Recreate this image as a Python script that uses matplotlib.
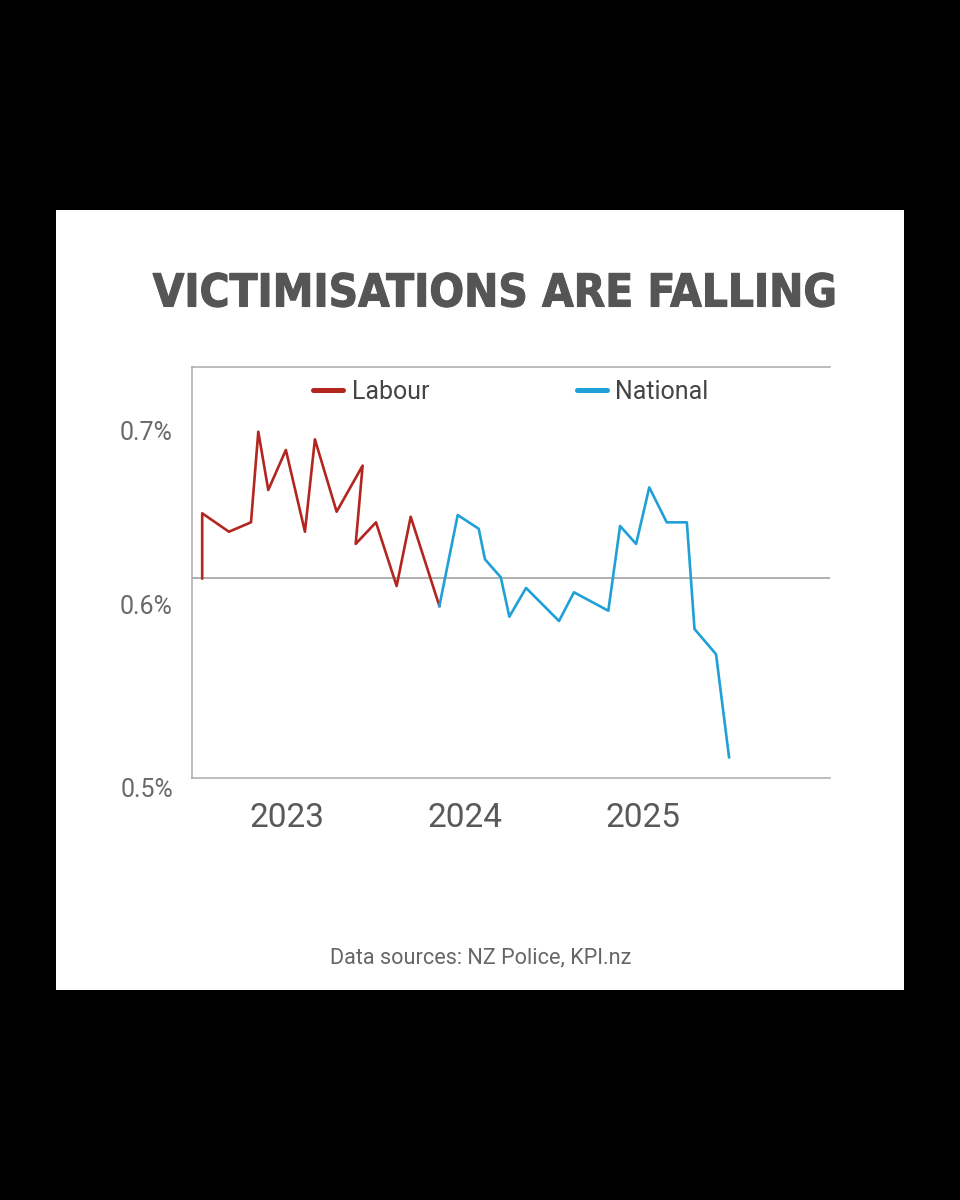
import matplotlib
matplotlib.use('Agg')
import matplotlib.pyplot as plt
import matplotlib.patheffects as pe
from matplotlib import font_manager
from matplotlib.lines import Line2D
from matplotlib.patches import Rectangle

# Victimisation rate (% of population), dates as decimal years
labour_dates = [2022.524, 2022.524, 2022.674, 2022.798, 2022.839, 2022.895, 2022.994, 2023.101,
                2023.157, 2023.279, 2023.425, 2023.386, 2023.500, 2023.616, 2023.695, 2023.856]
labour_rate = [0.6149, 0.6523, 0.6417, 0.6471, 0.6992, 0.6657, 0.6887, 0.6417,
               0.6948, 0.6532, 0.6797, 0.6347, 0.6471, 0.6105, 0.6503, 0.5990]

national_dates = [2023.856, 2023.959, 2024.077, 2024.112, 2024.201, 2024.249, 2024.343, 2024.528,
                  2024.612, 2024.805, 2024.871, 2024.961, 2025.035, 2025.133, 2025.246, 2025.289,
                  2025.410, 2025.483]
national_rate = [0.5990, 0.6513, 0.6434, 0.6259, 0.6155, 0.5929, 0.6094, 0.5904,
                 0.6069, 0.5963, 0.6450, 0.6347, 0.6672, 0.6471, 0.6471, 0.5858,
                 0.5713, 0.5121]

reference_rate = 0.6149
year_ticks = [2023, 2024, 2025]
year_labels = ['2023', '2024', '2025']
rate_ticks = [0.5, 0.6, 0.7]
rate_labels = ['0.5%', '0.6%', '0.7%']

RED = '#b3261f'
BLUE = '#1fa0d6'

names = {f.name for f in font_manager.fontManager.ttflist}
if 'Liberation Sans Narrow' in names:
    title_font, title_stretch = 'Liberation Sans Narrow', 'normal'
else:
    title_font, title_stretch = 'DejaVu Sans', 'condensed'

plt.rcParams['font.family'] = ['Roboto', 'DejaVu Sans']

fig = plt.figure(figsize=(9.6, 12), dpi=100, facecolor='black')
# white card behind everything
fig.patches.append(Rectangle((56 / 960, 1 - 990 / 1200), 848 / 960, 780 / 1200,
                             transform=fig.transFigure, facecolor='white', edgecolor='none', zorder=-10))

ax = fig.add_axes([191.7 / 960, 1 - 778.3 / 1200, 638.3 / 960, 411 / 1200])
ax.set_zorder(2)
ax.set_facecolor('none')

ax.axhline(reference_rate, color='#9a9a9a', lw=1.1, zorder=1)
ax.plot(labour_dates, labour_rate, color=RED, lw=1.9, zorder=3)
ax.plot(national_dates, national_rate, color=BLUE, lw=1.9, zorder=3)

ax.set_xlim(2022.465, 2026.05)
ax.set_ylim(0.5, 0.7362)

for side in ['left', 'top', 'bottom']:
    ax.spines[side].set_color('#ababab')
    ax.spines[side].set_linewidth(1.1)
ax.spines['right'].set_visible(False)

ax.set_xticks(year_ticks)
ax.set_xticklabels(year_labels)
ax.set_yticks(rate_ticks)
ax.set_yticklabels(rate_labels)
ax.tick_params(axis='x', length=0, pad=17, labelsize=24, labelcolor='#595959')
ax.tick_params(axis='y', length=0, pad=13.5, labelsize=18, labelcolor='#6a6a6a')
ax.get_yticklabels()[0].set_verticalalignment('top')

handles = [Line2D([], [], color=RED, lw=3.6, solid_capstyle='round'),
           Line2D([], [], color=BLUE, lw=3.6, solid_capstyle='round')]
ax.legend(handles, ['Labour', 'National'], loc='center', bbox_to_anchor=(0.5, 0.94),
          ncol=2, frameon=False, fontsize=18, labelcolor='#454545',
          handlelength=1.2, handletextpad=0.35, columnspacing=5.9)

title = fig.text(495 / 960, 1 - 294 / 1200, 'VICTIMISATIONS ARE FALLING',
                 family=title_font, fontstretch=title_stretch, fontweight='bold',
                 fontsize=40, color='#555555', ha='center', va='center')
fig.canvas.draw()
w = title.get_window_extent().width
title.set_fontsize(40 * 684 / w)
title.set_path_effects([pe.withStroke(linewidth=0.8, foreground='#555555')])

fig.text(481 / 960, 1 - 958 / 1200, 'Data sources: NZ Police, KPI.nz',
         fontsize=15.6, color='#666666', ha='center', va='center')

fig.savefig('out.png', dpi=100, facecolor='black')
